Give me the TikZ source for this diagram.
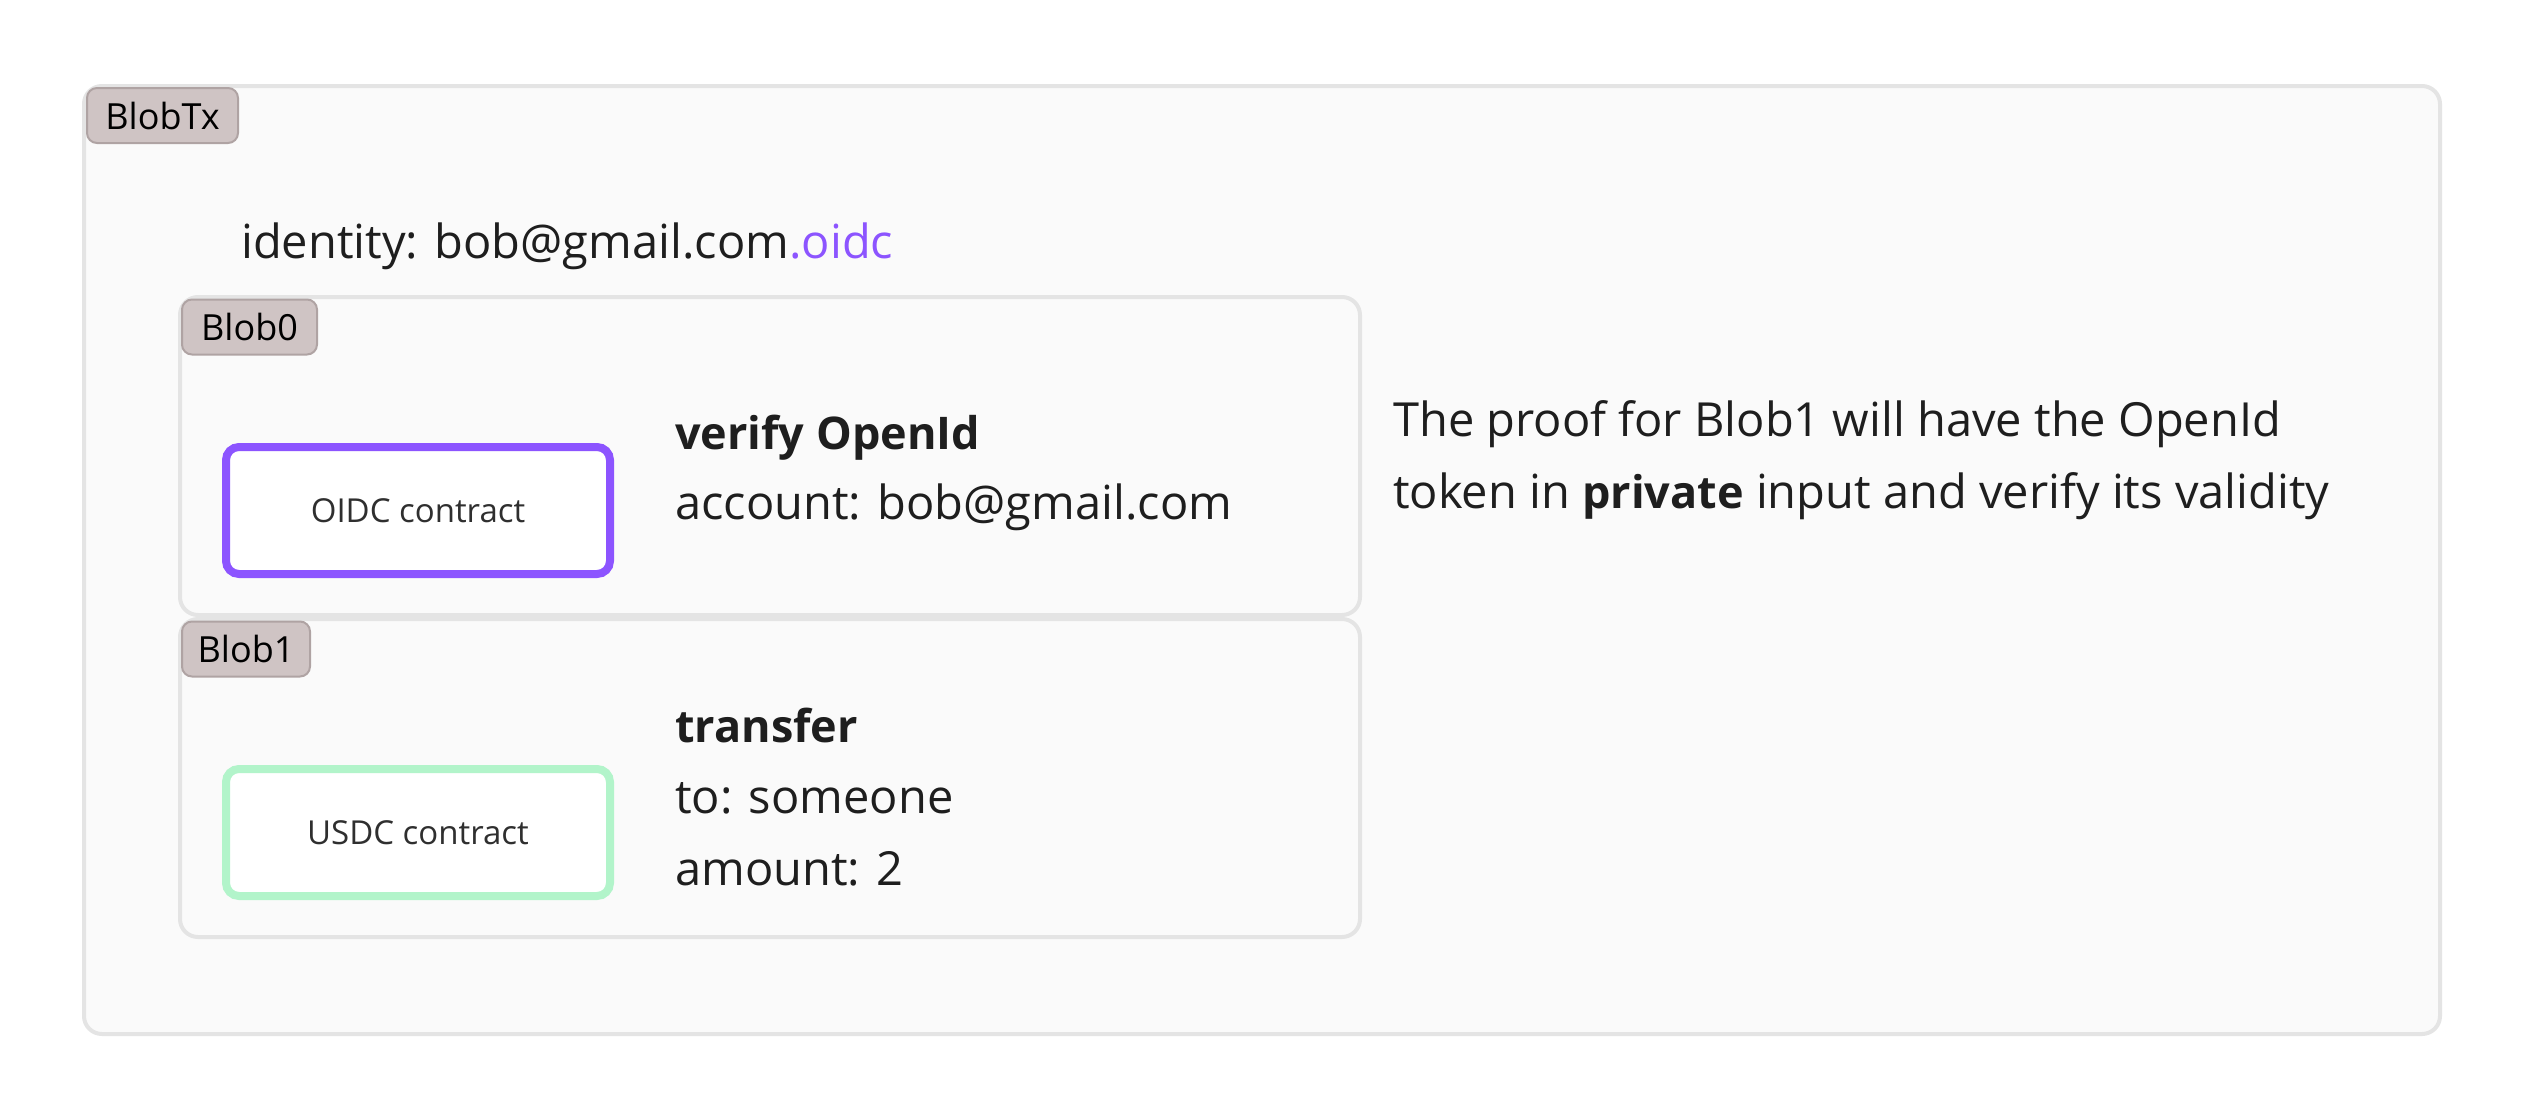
\documentclass[tikz,border=0pt]{standalone}
\usepackage{fontspec}
\setmainfont{Open Sans}
\definecolor{framegray}{HTML}{E4E4E4}
\definecolor{panel}{HTML}{FAFAFA}
\definecolor{badgefill}{HTML}{CFC4C4}
\definecolor{badgeedge}{HTML}{AFA3A3}
\definecolor{oidc}{HTML}{8C54FF}
\definecolor{usdc}{HTML}{B2F4CA}
\definecolor{ink}{HTML}{1E1E1E}
\definecolor{labelink}{HTML}{2F2F2F}
\newcommand{\boldpart}[1]{{\fontsize{45}{56}\selectfont\bfseries #1}}
\begin{document}
\begin{tikzpicture}[x=1pt,y=-1pt,
  frame/.style={draw=framegray, line width=4pt, fill=panel, rounded corners=18pt, inner sep=0pt, anchor=north west},
  badge/.style={draw=badgeedge, line width=2pt, fill=badgefill, rounded corners=10pt, inner sep=0pt,
    font=\fontsize{36}{40}\selectfont, text=black, minimum height=55pt},
  contract/.style={line width=8pt, fill=white, rounded corners=13pt, inner sep=0pt,
    font=\fontsize{33}{38}\selectfont, text=labelink, minimum width=384pt, minimum height=127pt},
  txt/.style={anchor=base west, inner sep=0pt, font=\fontsize{47}{56}\selectfont, text=ink},
  boldtxt/.style={txt, font=\fontsize{45}{56}\selectfont\bfseries},
]
\useasboundingbox (0,0) rectangle (2522,1114);
\fill[white] (0,0) rectangle (2522,1114);
% outer transaction frame
\node[frame, minimum width=2356pt, minimum height=948pt] (blobtx) at (82,84) {};
\node[badge, minimum width=151pt] (txbadge) at (162.5,115.5) {BlobTx};
\node[txt] (identity) at (241,258) {identity: bob@gmail.com\textcolor{oidc}{.oidc}};
% Blob0
\node[frame, minimum width=1180pt, minimum height=318pt] (blob0) at (178,295) {};
\node[badge, minimum width=135pt] (b0badge) at (249.5,327) {Blob0};
\node[contract, draw=oidc] (oidcbox) at (418,510.5) {OIDC contract};
\node[boldtxt] (verify) at (675,449) {verify OpenId};
\node[txt] (account) at (675,519) {account: bob@gmail.com};
% Blob1
\node[frame, minimum width=1180pt, minimum height=318pt] (blob1) at (178,617) {};
\node[badge, minimum width=128pt] (b1badge) at (246,649) {Blob1};
\node[contract, draw=usdc] (usdcbox) at (418,832.5) {USDC contract};
\node[boldtxt] (transfer) at (675,742) {transfer};
\node[txt] (to) at (675,813) {to: someone};
\node[txt] (amount) at (675,885) {amount: 2};
% note
\node[txt] (note1) at (1393,436) {The proof for Blob1 will have the OpenId};
\node[txt] (note2) at (1393,508) {token in \boldpart{private} input and verify its validity};
\end{tikzpicture}
\end{document}
